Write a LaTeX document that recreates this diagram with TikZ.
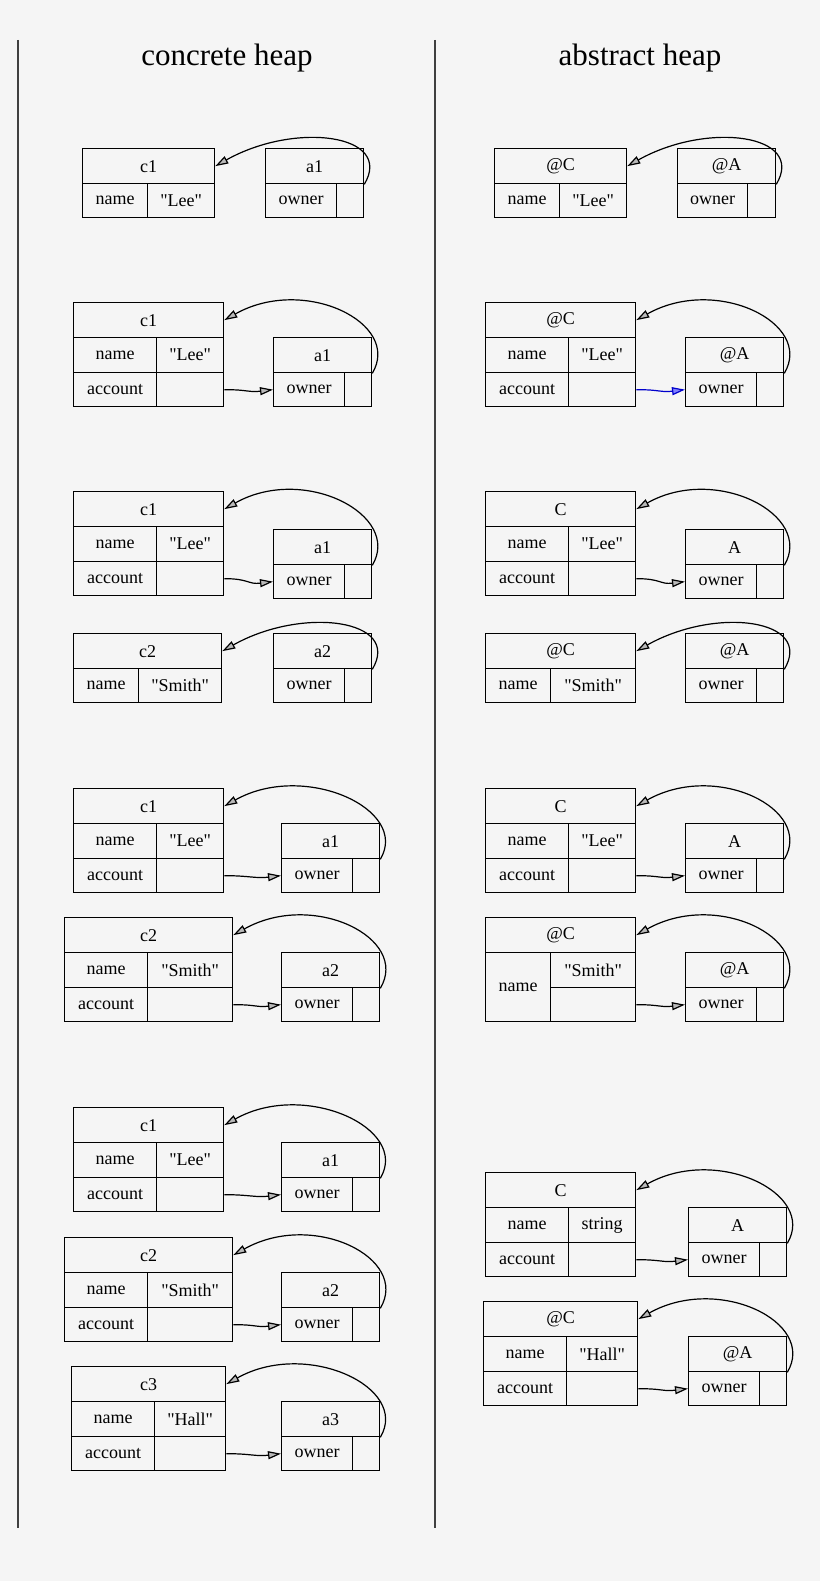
\documentclass[tikz,border=0pt]{standalone}
\usepackage{fontspec}
\setmainfont{Liberation Serif}[Ligatures=TeXOff]
\usetikzlibrary{arrows.meta}
\definecolor{bg}{HTML}{F5F5F5}
\tikzset{
 cellbox/.style={draw,line width=1.3pt,inner sep=0pt,anchor=north west,font=\fontsize{18}{20}\selectfont},
 ref/.style={line width=1.2pt,-{Triangle[length=13pt,width=8pt,fill=gray!55]}},
 sep/.style={line width=1.2pt,draw=black!75},
 heading/.style={font=\fontsize{31}{34}\selectfont}
}
\newcommand\dq{"}
\newcommand\cell[6]{\node[cellbox,minimum width={#4pt-#2pt},minimum height={#5pt-#3pt}] (#1) at (#2,#3) {#6};}
\newcommand\CA[7]{%
 \pgfmathsetmacro\ya{#5+35}\pgfmathsetmacro\yb{#5+70}\pgfmathsetmacro\yc{#5+104}%
 \cell{#1-t}{#2}{#5}{#3}{\ya}{#6}
 \cell{#1-n}{#2}{\ya}{#4}{\yb}{name}
 \cell{#1-v}{#4}{\ya}{#3}{\yb}{#7}
 \cell{#1-a}{#2}{\yb}{#4}{\yc}{account}
 \cell{#1-p}{#4}{\yb}{#3}{\yc}{}}
\newcommand\CN[7]{%
 \pgfmathsetmacro\ya{#5+35}\pgfmathsetmacro\yb{#5+69}%
 \cell{#1-t}{#2}{#5}{#3}{\ya}{#6}
 \cell{#1-n}{#2}{\ya}{#4}{\yb}{name}
 \cell{#1-v}{#4}{\ya}{#3}{\yb}{#7}}
\newcommand\AB[6]{%
 \pgfmathsetmacro\ya{#5+35}\pgfmathsetmacro\yb{#5+69}%
 \cell{#1-t}{#2}{#5}{#3}{\ya}{#6}
 \cell{#1-o}{#2}{\ya}{#4}{\yb}{owner}
 \cell{#1-p}{#4}{\ya}{#3}{\yb}{}}
\newcommand\selfref[2]{\draw[ref] (#1-t.south east) .. controls +(30,-50) and +(80,-45) .. (#2-t.east);}
\newcommand\acc[2]{\draw[ref] (#1-p.east) .. controls +(25,0) and +(-25,3) .. (#2-o.west);}
\begin{document}
\begin{tikzpicture}[x=1pt,y=-1pt]
\fill[bg] (0,0) rectangle (820,1581);
\useasboundingbox (0,0) rectangle (820,1581);
\coordinate (l1) at (18,40); \coordinate (l2) at (18,1528);
\coordinate (r1) at (435,40); \coordinate (r2) at (435,1528);
\draw[sep] (l1) -- (l2); \draw[sep] (r1) -- (r2);
\node[heading] (h1) at (227,58) {concrete heap};
\node[heading] (h2) at (640,58) {abstract heap};
% panel 1
\CN{p1c}{82}{214}{147}{148}{c1}{\dq Lee\dq}
\AB{p1a}{265}{363}{336}{148}{a1}
\selfref{p1a}{p1c}
\CN{q1c}{494}{626}{559}{148}{@C}{\dq Lee\dq}
\AB{q1a}{677}{775}{747}{148}{@A}
\selfref{q1a}{q1c}
% panel 2
\CA{p2c}{73}{223}{156}{302}{c1}{\dq Lee\dq}
\AB{p2a}{273}{371}{344}{337}{a1}
\selfref{p2a}{p2c}\acc{p2c}{p2a}
\CA{q2c}{485}{635}{568}{302}{@C}{\dq Lee\dq}
\AB{q2a}{685}{783}{756}{337}{@A}
\selfref{q2a}{q2c}
\draw[ref,draw=blue!80!black,-{Triangle[length=13pt,width=8pt,fill=blue!50]}] (q2c-p.east) .. controls +(25,0) and +(-25,3) .. (q2a-o.west);
% panel 3
\CA{p3c}{73}{223}{156}{491}{c1}{\dq Lee\dq}
\AB{p3a}{273}{371}{344}{529}{a1}
\selfref{p3a}{p3c}\acc{p3c}{p3a}
\CN{p3d}{73}{221}{138}{633}{c2}{\dq Smith\dq}
\AB{p3b}{273}{371}{344}{633}{a2}
\selfref{p3b}{p3d}
\CA{q3c}{485}{635}{568}{491}{C}{\dq Lee\dq}
\AB{q3a}{685}{783}{756}{529}{A}
\selfref{q3a}{q3c}\acc{q3c}{q3a}
\CN{q3d}{485}{635}{550}{633}{@C}{\dq Smith\dq}
\AB{q3b}{685}{783}{756}{633}{@A}
\selfref{q3b}{q3d}
% panel 4
\CA{p4c}{73}{223}{156}{788}{c1}{\dq Lee\dq}
\AB{p4a}{281}{379}{352}{823}{a1}
\selfref{p4a}{p4c}\acc{p4c}{p4a}
\CA{p4d}{64}{232}{147}{917}{c2}{\dq Smith\dq}
\AB{p4b}{281}{379}{352}{952}{a2}
\selfref{p4b}{p4d}\acc{p4d}{p4b}
\CA{q4c}{485}{635}{568}{788}{C}{\dq Lee\dq}
\AB{q4a}{685}{783}{756}{823}{A}
\selfref{q4a}{q4c}\acc{q4c}{q4a}
\cell{q4d-t}{485}{917}{635}{952}{@C}
\cell{q4d-n}{485}{952}{550}{1021}{name}
\cell{q4d-v}{550}{952}{635}{987}{\dq Smith\dq}
\cell{q4d-p}{550}{987}{635}{1021}{}
\AB{q4b}{685}{783}{756}{952}{@A}
\selfref{q4b}{q4d}\acc{q4d}{q4b}
% panel 5
\CA{p5c}{73}{223}{156}{1107}{c1}{\dq Lee\dq}
\AB{p5a}{281}{379}{352}{1142}{a1}
\selfref{p5a}{p5c}\acc{p5c}{p5a}
\CA{p5d}{64}{232}{147}{1237}{c2}{\dq Smith\dq}
\AB{p5b}{281}{379}{352}{1272}{a2}
\selfref{p5b}{p5d}\acc{p5d}{p5b}
\CA{p5e}{71}{225}{154}{1366}{c3}{\dq Hall\dq}
\AB{p5f}{281}{379}{352}{1401}{a3}
\selfref{p5f}{p5e}\acc{p5e}{p5f}
\CA{q5c}{485}{635}{568}{1172}{C}{string}
\AB{q5a}{688}{786}{759}{1207}{A}
\selfref{q5a}{q5c}\acc{q5c}{q5a}
\CA{q5d}{483}{637}{566}{1301}{@C}{\dq Hall\dq}
\AB{q5b}{688}{786}{759}{1336}{@A}
\selfref{q5b}{q5d}\acc{q5d}{q5b}
\end{tikzpicture}
\end{document}
